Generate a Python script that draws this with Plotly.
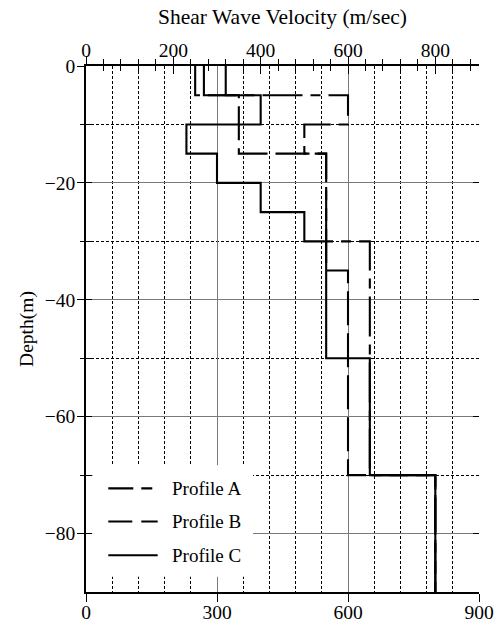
import plotly.graph_objects as go

# Layer boundaries (depth, m) and shear-wave velocity of each layer (m/sec)
depth_a = [0, 5, 10, 15, 30, 70, 90]
vel_a = [320, 600, 500, 550, 650, 800]

depth_b = [0, 5, 15, 35, 70, 90]
vel_b = [250, 350, 550, 600, 800]

depth_c = [0, 5, 10, 15, 20, 25, 30, 50, 70, 90]
vel_c = [270, 400, 230, 300, 400, 500, 550, 650, 800]

profile_names = ["Profile A", "Profile B", "Profile C"]

# Axis ticks
bottom_ticks = [0, 300, 600, 900]
top_ticks = [0, 200, 400, 600, 800]
top_minor = [v for v in range(40, 900, 40) if v % 200 != 0]
x_minor_grid = [v for v in range(60, 900, 60) if v % 300 != 0]
x_major_grid = [300, 600]
depth_ticks = [0, -20, -40, -60, -80]
depth_minor = [-10, -30, -50, -70]

FONT = "Liberation Serif"
BLACK = "#000000"
GRAY = "#7a7a7a"

DASH_A = "40px,8px,10px,8px"
DASH_B = "34px,8px"


def steps(depths, vels):
    xs = list(vels) + [vels[-1]]
    ys = [-d for d in depths]
    return xs, ys


fig = go.Figure()

# empty traces so that the extra tick / grid axes are laid out
for xa, ya in [("x2", "y"), ("x3", "y"), ("x4", "y"), ("x", "y2"), ("x", "y3")]:
    fig.add_trace(go.Scatter(x=[], y=[], mode="lines", xaxis=xa, yaxis=ya,
                             showlegend=False, hoverinfo="skip"))

for name, (d, v), dash in [
    (profile_names[0], (depth_a, vel_a), DASH_A),
    (profile_names[1], (depth_b, vel_b), DASH_B),
    (profile_names[2], (depth_c, vel_c), "solid"),
]:
    xs, ys = steps(d, v)
    fig.add_trace(go.Scatter(
        x=xs, y=ys, mode="lines", name=name, line_shape="vh",
        line=dict(color=BLACK, width=2.1, dash=dash),
        showlegend=False, xaxis="x", yaxis="y",
    ))

XR = [0, 900]
YR = [-90, 0]

layout_axes = dict(
    # bottom axis with labels and dotted minor grid
    xaxis=dict(
        range=XR, domain=[0, 1], anchor="y", side="bottom", automargin=False,
        tickmode="array", tickvals=bottom_ticks,
        ticks="outside", ticklen=8, tickwidth=1.2, tickcolor=BLACK,
        ticklabelstandoff=-6,
        showline=True, linecolor=BLACK, linewidth=1.8,
        showgrid=False, zeroline=False,
        tickfont=dict(family=FONT, size=19.5, color=BLACK),
        minor=dict(tickmode="array", tickvals=x_minor_grid, ticks="",
                   showgrid=True, gridcolor=BLACK, gridwidth=1,
                   griddash="3px,2px"),
    ),
    # top axis with labels and title
    xaxis2=dict(
        range=XR, overlaying="x", anchor="y", side="top", automargin=False,
        tickmode="array", tickvals=top_ticks,
        ticks="outside", ticklen=8, tickwidth=1.2, tickcolor=BLACK,
        ticklabelstandoff=-9,
        showline=True, linecolor=BLACK, linewidth=1.8,
        showgrid=False, zeroline=False,
        tickfont=dict(family=FONT, size=19.5, color=BLACK),
        title=dict(text="Shear Wave Velocity (m/sec)", standoff=10,
                   font=dict(family=FONT, size=21.5, color=BLACK)),
        minor=dict(tickmode="array", tickvals=top_minor, ticks="outside",
                   ticklen=5, tickwidth=1.2, tickcolor=BLACK),
    ),
    # inward half of the top ticks
    xaxis3=dict(
        range=XR, overlaying="x", anchor="y", side="top", automargin=False,
        tickmode="array", tickvals=top_ticks,
        ticks="inside", ticklen=8, tickwidth=1.2, tickcolor=BLACK,
        showticklabels=False, showline=False, showgrid=False, zeroline=False,
        minor=dict(tickmode="array", tickvals=top_minor, ticks="inside",
                   ticklen=5, tickwidth=1.2, tickcolor=BLACK),
    ),
    # solid major velocity grid
    xaxis4=dict(
        range=XR, overlaying="x", anchor="y", side="bottom", automargin=False,
        tickmode="array", tickvals=x_major_grid, ticks="",
        showticklabels=False, showline=False, zeroline=False,
        showgrid=True, gridcolor=GRAY, gridwidth=1.2,
    ),
    yaxis=dict(
        range=YR, domain=[0, 1], anchor="x", side="left", automargin=False,
        tickmode="array", tickvals=depth_ticks,
        ticks="outside", ticklen=7, tickwidth=1.2, tickcolor=BLACK,
        ticklabelstandoff=-2,
        showline=True, linecolor=BLACK, linewidth=1.8,
        showgrid=True, gridcolor=GRAY, gridwidth=1.2, zeroline=False,
        tickfont=dict(family=FONT, size=19.5, color=BLACK),
        title=dict(text="Depth(m)", standoff=6,
                   font=dict(family=FONT, size=19.5, color=BLACK)),
        minor=dict(tickmode="array", tickvals=depth_minor, ticks="outside",
                   ticklen=4, tickwidth=1.2, tickcolor=BLACK,
                   showgrid=True, gridcolor=BLACK, gridwidth=1,
                   griddash="3px,2px"),
    ),
    # inward ticks on the left edge
    yaxis2=dict(
        range=YR, overlaying="y", anchor="x", side="left", automargin=False,
        tickmode="array", tickvals=depth_ticks,
        ticks="inside", ticklen=6, tickwidth=1.2, tickcolor=BLACK,
        showticklabels=False, showline=False, showgrid=False, zeroline=False,
        minor=dict(tickmode="array", tickvals=depth_minor, ticks="inside",
                   ticklen=6, tickwidth=1.2, tickcolor=BLACK),
    ),
    # inward ticks on the right edge
    yaxis3=dict(
        range=YR, overlaying="y", anchor="x", side="right", automargin=False,
        tickmode="array", tickvals=depth_ticks,
        ticks="inside", ticklen=6, tickwidth=1.2, tickcolor=BLACK,
        showticklabels=False, showline=False, showgrid=False, zeroline=False,
    ),
)

# Legend: white panel, line samples and labels (paper coordinates)
shapes = [dict(type="rect", xref="paper", yref="paper",
               x0=0.016, x1=0.425, y0=0.029, y1=0.241,
               fillcolor="white", line=dict(width=0), layer="above")]
annotations = []
legend_rows = [0.197, 0.134, 0.070]
legend_dash = ["25px,8px,11px,8px", "24px,9px,24px", "solid"]
for name, yrow, dash in zip(profile_names, legend_rows, legend_dash):
    shapes.append(dict(type="line", xref="paper", yref="paper",
                       x0=0.0567, x1=0.1824, y0=yrow, y1=yrow,
                       line=dict(color=BLACK, width=2.1, dash=dash),
                       layer="above"))
    annotations.append(dict(xref="paper", yref="paper", x=0.2137, y=yrow,
                            xanchor="left", yanchor="middle", showarrow=False,
                            text=name,
                            font=dict(family=FONT, size=19, color=BLACK)))

fig.update_layout(
    width=497, height=624,
    margin=dict(l=86, r=18, t=66, b=32, autoexpand=False),
    paper_bgcolor="white", plot_bgcolor="white",
    font=dict(family=FONT, color=BLACK),
    shapes=shapes, annotations=annotations,
    showlegend=False,
    **layout_axes,
)

fig.write_html("out.html")
